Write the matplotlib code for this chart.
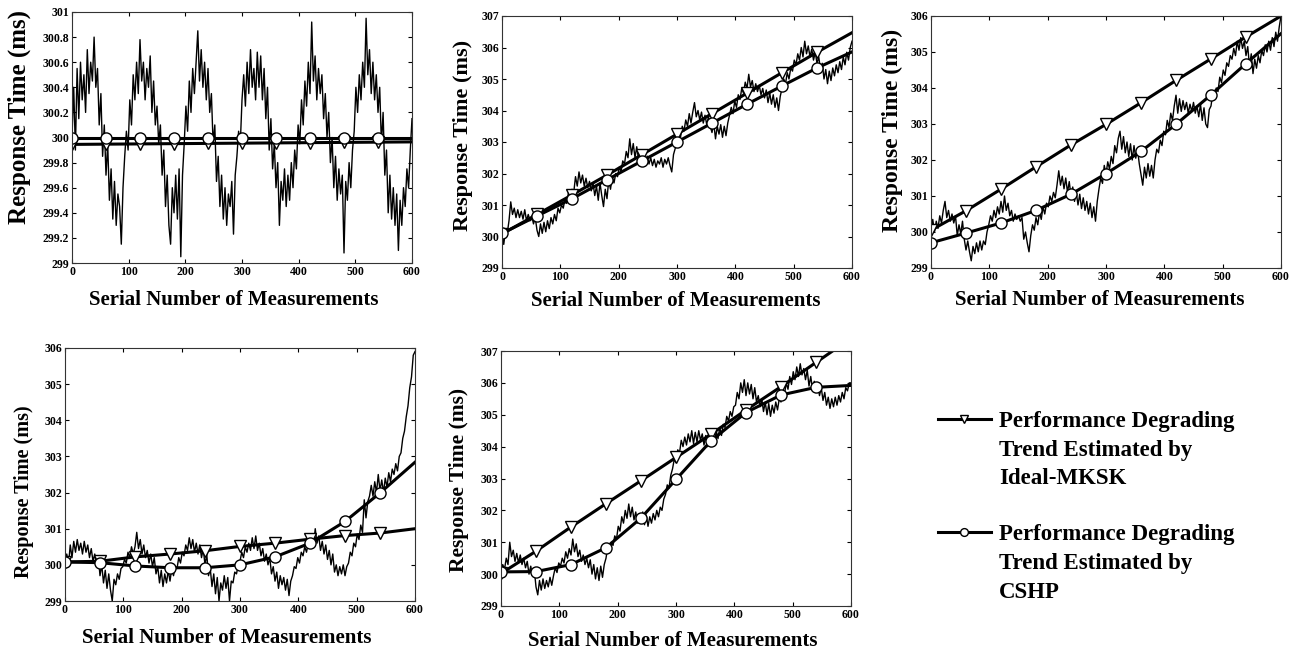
import numpy as np
import matplotlib
matplotlib.use("Agg")
import matplotlib.pyplot as plt
from matplotlib.lines import Line2D
from matplotlib.ticker import MultipleLocator, FormatStrFormatter

plt.rcParams["font.family"] = ["Liberation Serif", "DejaVu Serif"]
plt.rcParams["font.weight"] = "bold"

# serial numbers of the measurements (read every 3rd sample)
xs = np.arange(0, 601, 3)
# serial numbers where the two trend estimates are evaluated
xt = np.arange(0, 601, 60)

# (a) periodic fluctuation, no degradation
resp_a = [
    300.0, 300.4, 299.9, 300.55, 300.15, 300.6, 300.3, 300.5, 300.2, 300.7,
    300.35, 300.6, 300.45, 300.8, 300.4, 300.55, 300.1, 300.35, 299.85, 300.1,
    299.7, 299.95, 299.5, 299.75, 299.35, 299.65, 299.3, 299.55, 299.45, 299.15,
    299.6, 299.85, 300.05, 299.9, 300.3, 300.1, 300.5, 300.3, 300.6, 300.35,
    300.78, 300.45, 300.6, 300.3, 300.55, 300.4, 300.65, 300.2, 300.45, 300.1,
    300.25, 299.95, 300.1, 299.7, 299.9, 299.45, 299.7, 299.3, 299.15, 299.6,
    299.4, 299.7, 299.35, 299.75, 299.05, 299.7, 299.95, 300.25, 300.05, 300.45,
    300.2, 300.55, 300.35, 300.6, 300.85, 300.45, 300.7, 300.4, 300.6, 300.3,
    300.55, 300.2, 300.35, 299.95, 300.1, 299.65, 299.85, 299.45, 299.7, 299.35,
    299.6, 299.3, 299.55, 299.45, 299.65, 299.23, 299.7, 299.85, 300.05, 299.95,
    300.3, 300.5, 300.25, 300.6, 300.35, 300.7, 300.4, 300.55, 300.3, 300.68,
    300.4, 300.65, 300.3, 300.55, 300.15, 300.4, 299.9, 300.15, 299.75, 299.95,
    299.6, 299.8, 299.3, 299.65, 299.5, 299.75, 299.45, 299.7, 299.5, 299.8,
    299.6, 299.9, 299.75, 300.1, 299.95, 300.3, 300.1, 300.45, 300.25, 300.6,
    300.35, 300.92, 300.45, 300.65, 300.3, 300.55, 300.35, 300.5, 300.15, 300.35,
    300.0, 300.2, 299.8, 300.0, 299.6, 299.85, 299.5, 299.75, 299.55, 299.7,
    299.08, 299.65, 299.5, 299.8, 299.6, 299.9, 300.05, 300.4, 300.2, 300.5,
    300.3, 300.6, 300.4, 300.95, 300.5, 300.7, 300.35, 300.6, 300.3, 300.5,
    300.2, 300.4, 299.95, 300.2, 299.7, 299.9, 299.4, 299.7, 299.35, 299.6,
    299.3, 299.55, 299.1, 299.5, 299.3, 299.6, 299.45, 299.75, 299.6, 299.9,
    300.15,
]
mksk_a = [299.945, 299.947, 299.949, 299.951, 299.953, 299.955, 299.957, 299.959, 299.961, 299.963, 299.965]
cshp_a = [300.0, 300.0, 300.0, 300.0, 300.0, 300.0, 300.0, 300.0, 300.0, 300.0, 300.0]

# (b) linear degradation
resp_b = [
    300.0, 299.75, 300.2, 300.1, 300.5, 301.1, 300.7, 300.9, 300.6, 300.85,
    300.6, 300.8, 300.55, 300.85, 300.5, 300.7, 300.5, 300.65, 300.4, 300.6,
    300.2, 300.0, 300.4, 300.1, 300.45, 300.15, 300.5, 300.25, 300.6, 300.4,
    300.7, 300.5, 300.9, 300.75, 301.0, 300.9, 301.2, 301.05, 301.4, 301.2,
    301.5, 301.4, 301.9, 301.6, 302.05, 301.7, 301.95, 301.6, 301.85, 301.55,
    301.75, 301.45, 301.7, 301.3, 301.6, 301.15, 301.7, 301.3, 300.95, 301.5,
    301.2, 301.8, 301.5, 301.9, 301.7, 302.0, 301.9, 302.2, 302.05, 302.4,
    302.3, 302.7, 302.5, 303.1, 302.6, 302.95, 302.5, 302.85, 302.45, 302.75,
    302.5, 302.7, 302.35, 302.55, 302.3, 302.5, 302.25, 302.45, 302.2, 302.4,
    302.3, 302.5, 302.2, 302.45, 302.3, 302.5, 302.25, 302.05, 302.6, 302.8,
    303.0, 303.3, 303.15, 303.5, 303.35, 303.7, 303.5, 303.9, 303.6, 303.95,
    304.25, 303.8, 304.0, 303.7, 303.95, 303.6, 303.85, 303.55, 303.8, 303.5,
    303.3, 303.6, 303.1, 303.5, 303.25, 303.55, 303.15, 303.5, 303.2, 303.6,
    303.85, 304.1, 303.9, 304.3, 304.1, 304.5, 304.35, 304.7, 304.55, 304.9,
    304.7, 305.15, 304.75, 304.95, 304.6, 304.85, 304.6, 304.8, 304.5, 304.7,
    304.4, 304.65, 304.25, 304.55, 304.2, 304.5, 304.1, 304.4, 304.0, 304.45,
    304.7, 305.0, 304.85, 305.2, 305.0, 305.35, 305.25, 305.6, 305.45, 305.8,
    305.6, 306.0, 305.7, 306.2, 305.8, 306.05, 305.7, 305.95, 305.6, 305.85,
    305.5, 305.7, 305.3, 305.5, 305.0, 305.3, 304.85, 305.25, 304.95, 305.35,
    305.1, 305.45, 305.2, 305.55, 305.3, 305.7, 305.45, 305.85, 305.6, 306.0,
    306.2,
]
mksk_b = [300.08, 300.7, 301.32, 301.95, 302.6, 303.25, 303.9, 304.55, 305.2, 305.85, 306.47]
cshp_b = [300.1, 300.65, 301.2, 301.8, 302.4, 303.0, 303.6, 304.2, 304.78, 305.35, 305.86]

# (c) accelerating degradation
resp_c = [
    300.1, 300.35, 300.0, 300.3, 300.1, 300.45, 300.25, 300.6, 300.85, 300.4,
    300.6, 300.3, 300.5, 300.25, 300.45, 299.9, 300.2, 299.95, 300.3, 299.8,
    299.5, 299.75, 299.45, 299.2, 299.6, 299.4, 299.7, 299.45, 299.75, 299.5,
    299.75, 299.65, 300.0, 300.2, 300.45, 300.3, 300.6, 300.4, 300.7, 300.5,
    300.85, 300.55, 301.0, 300.6, 300.8, 300.45, 300.6, 300.3, 300.5, 300.35,
    300.45, 300.3, 300.4, 299.8, 300.0, 299.7, 299.45, 299.9, 300.2, 300.05,
    300.4, 300.2, 300.55, 300.35, 300.7, 300.5, 300.8, 300.7, 301.0, 300.85,
    301.1, 300.95, 301.3, 301.7, 301.3, 301.55, 301.2, 301.5, 301.1, 301.4,
    301.0, 301.25, 300.85, 301.1, 300.75, 301.05, 300.65, 300.95, 300.6, 300.85,
    300.5, 300.8, 300.4, 300.7, 300.3, 300.85, 301.2, 301.5, 301.35, 301.85,
    301.6, 301.95, 301.75, 302.1, 301.9, 302.4, 302.2, 302.6, 302.8, 302.3,
    302.65, 302.2, 302.5, 302.1, 302.45, 302.0, 302.4, 302.05, 302.3, 301.9,
    301.6, 301.3, 301.8, 301.5, 301.9, 301.55, 301.85, 301.5, 302.0, 302.3,
    302.2, 302.55, 302.4, 302.8, 302.7, 303.1, 302.9, 303.3, 303.1, 303.5,
    303.8, 303.3, 303.7, 303.35, 303.65, 303.4, 303.6, 303.3, 303.55, 303.35,
    303.6, 303.3, 303.5, 303.2, 303.55, 303.1, 303.45, 303.0, 302.9, 303.4,
    303.5, 303.85, 303.7, 304.0, 303.9, 304.3, 304.15, 304.5, 304.35, 304.7,
    304.6, 304.9, 304.8, 305.1, 304.9, 305.3, 305.05, 305.4, 305.1, 305.3,
    304.9, 305.15, 304.6, 304.95, 304.4, 304.8, 304.55, 304.9, 304.7, 305.05,
    304.9, 305.2, 305.0, 305.3, 305.05, 305.4, 305.15, 305.55, 305.3, 305.7,
    306.0,
]
mksk_c = [300.05, 300.59, 301.19, 301.81, 302.42, 302.99, 303.59, 304.21, 304.81, 305.42, 306.0]
cshp_c = [299.7, 299.97, 300.25, 300.6, 301.05, 301.62, 302.24, 302.99, 303.81, 304.68, 305.51]

# (d) sharp degradation at the end
resp_d = [
    299.8, 300.3, 300.0, 300.55, 300.2, 300.65, 300.35, 300.7, 300.4, 300.6,
    300.3, 300.65, 300.35, 300.55, 300.2, 300.45, 300.1, 300.3, 300.0, 300.25,
    299.7, 300.0, 299.5, 299.85, 299.35, 299.75, 299.3, 299.0, 299.6, 299.45,
    299.75, 299.6, 299.9, 299.95, 300.15, 300.05, 300.35, 300.2, 300.5, 300.3,
    300.5, 300.9, 300.45, 300.7, 300.3, 300.55, 300.2, 300.4, 300.05, 300.3,
    299.95, 300.2, 299.75, 299.95, 299.5, 299.85, 299.4, 299.75, 299.5, 299.85,
    299.55, 299.9, 299.7, 299.95, 299.9, 300.2, 300.05, 300.35, 300.25, 300.55,
    300.4, 300.75, 300.45, 300.7, 300.35, 300.6, 300.3, 300.55, 300.2, 300.45,
    300.0, 300.3, 299.7, 299.9, 299.4, 299.75, 299.2, 299.65, 299.0, 299.5,
    299.3, 299.7, 299.35, 299.65, 299.0, 299.55, 299.5, 299.8, 299.75, 300.0,
    300.1, 300.35, 300.2, 300.5, 300.35, 300.6, 300.4, 300.75, 300.45, 300.8,
    300.4, 300.6, 300.25, 300.45, 300.1, 300.3, 300.0, 300.2, 299.75, 299.95,
    299.55, 299.8, 299.35, 299.7, 299.45, 299.65, 299.3, 299.6, 299.15, 299.55,
    299.7, 299.95, 299.9, 300.2, 300.05, 300.35, 300.25, 300.5, 300.35, 300.6,
    300.5, 300.85, 300.55, 301.0, 300.6, 300.8, 300.4, 300.65, 300.3, 300.55,
    300.15, 300.4, 300.0, 300.3, 299.8, 300.0, 299.7, 299.95, 299.75, 300.0,
    299.7, 299.95, 300.05, 300.35, 300.25, 300.6, 300.5, 300.85, 300.7, 301.1,
    300.9, 301.8, 301.3, 301.75, 301.9, 302.2, 301.9, 302.3, 302.0, 302.5,
    302.05, 302.35, 302.0, 302.4, 302.15, 302.55, 302.3, 302.65, 302.5, 302.8,
    302.6, 303.0, 303.1, 303.5, 303.7, 304.1, 304.4, 304.9, 305.2, 305.8,
    305.9,
]
mksk_d = [300.08, 300.1, 300.22, 300.3, 300.39, 300.51, 300.6, 300.71, 300.81, 300.88, 301.0]
cshp_d = [300.08, 300.06, 299.97, 299.92, 299.92, 300.0, 300.22, 300.6, 301.2, 301.99, 302.84]

# (e) degradation that levels off
resp_e = [
    300.0, 300.3, 300.15, 300.5, 300.3, 301.0, 300.55, 300.75, 300.4, 300.65,
    300.35, 300.6, 300.3, 300.5, 300.2, 300.4, 300.0, 300.25, 299.95, 300.15,
    299.6, 299.35, 299.8, 299.5, 299.85, 299.55, 299.8, 299.6, 299.9, 299.65,
    299.95, 300.2, 300.05, 300.35, 300.25, 300.5, 300.35, 300.7, 300.5, 300.8,
    300.6, 301.1, 300.7, 300.95, 300.55, 300.75, 300.4, 300.6, 300.3, 300.5,
    300.2, 300.45, 300.0, 300.3, 299.85, 300.2, 299.8, 300.25, 299.9, 300.3,
    300.5, 300.85, 300.7, 301.0, 300.9, 301.2, 301.1, 301.5, 301.35, 301.8,
    301.6, 302.0, 301.75, 302.2, 301.8, 302.1, 301.7, 301.95, 301.6, 301.9,
    301.65, 301.95, 301.55, 301.85, 301.5, 301.8, 301.6, 301.9, 301.7, 302.0,
    301.8, 302.1, 302.0, 302.35, 302.5, 302.8, 302.7, 303.1, 303.3, 303.6,
    303.5, 303.9, 303.8, 304.2, 304.0, 304.3, 304.05, 304.4, 304.15, 304.5,
    304.1, 304.45, 304.15, 304.5, 304.2, 304.4, 304.05, 304.35, 304.0, 304.3,
    304.0, 304.35, 304.1, 304.5, 304.25, 304.6, 304.35, 304.7, 304.6, 304.95,
    304.8, 305.1, 304.95, 305.25, 305.3, 305.7, 305.5, 306.0, 305.7, 306.1,
    305.6, 306.0, 305.65, 305.95, 305.5, 305.85, 305.4, 305.6, 305.25, 305.5,
    305.1, 305.4, 305.0, 305.35, 304.95, 305.3, 305.05, 305.4, 305.15, 305.5,
    305.4, 305.75, 305.65, 306.0, 305.8, 306.2, 305.95, 306.35, 306.1, 306.5,
    306.2, 306.6, 306.25, 306.45, 306.1, 306.4, 305.9, 306.2, 305.8, 306.05,
    305.7, 305.95, 305.6, 305.85, 305.45, 305.7, 305.3, 305.55, 305.2, 305.5,
    305.25, 305.55, 305.3, 305.6, 305.4, 305.7, 305.5, 305.85, 305.75, 306.0,
    306.0,
]
mksk_e = [300.02, 300.72, 301.48, 302.21, 302.93, 303.66, 304.39, 305.15, 305.88, 306.64, 307.4]
cshp_e = [300.07, 300.08, 300.3, 300.83, 301.76, 302.97, 304.18, 305.07, 305.62, 305.86, 305.92]

lines_mksk = ["Performance Degrading", "Trend Estimated by", "Ideal-MKSK"]
lines_cshp = ["Performance Degrading", "Trend Estimated by", "CSHP"]

W, H = 1300, 653
fig = plt.figure(figsize=(W / 100, H / 100), dpi=100)

# box (left, right, top, bottom) in pixels, ylim, y step, ylabel size,
# ylabel (x, y) and xlabel (x, y) in axes fractions
panels = [
    ((72, 412, 12, 263), resp_a, mksk_a, cshp_a, (299, 301), 0.2, 18, (-0.12, 0.58), (0.475, -0.108)),
    ((502, 852, 16, 268), resp_b, mksk_b, cshp_b, (299, 307), 1, 16, (-0.083, 0.528), (0.496, -0.091)),
    ((931, 1281, 16, 268), resp_c, mksk_c, cshp_c, (299, 306), 1, 17, (-0.08, 0.544), (0.481, -0.087)),
    ((65, 415, 348, 601), resp_d, mksk_d, cshp_d, (299, 306), 1, 14.5, (-0.09, 0.433), (0.463, -0.107)),
    ((501, 851, 351, 606), resp_e, mksk_e, cshp_e, (299, 307), 1, 15.5, (-0.092, 0.494), (0.491, -0.098)),
]

for (l, r, t, b), resp, mk, cs, ylim, step, ysz, ypos, xpos in panels:
    ax = fig.add_axes([l / W, 1 - b / H, (r - l) / W, (b - t) / H])
    ax.plot(xs, resp, color="black", lw=1.0)
    h_mk, = ax.plot(xt, mk, color="black", lw=2.2, marker="v", ms=8, mfc="white",
                    mec="black", mew=1.0, markevery=slice(0, 10))
    h_cs, = ax.plot(xt, cs, color="black", lw=2.2, marker="o", ms=8, mfc="white",
                    mec="black", mew=1.0, markevery=slice(0, 10))
    ax.set_xlim(0, 600)
    ax.set_ylim(*ylim)
    ax.xaxis.set_major_locator(MultipleLocator(100))
    ax.yaxis.set_major_locator(MultipleLocator(step))
    if step < 1:
        ax.yaxis.set_major_formatter(FormatStrFormatter("%g"))
    ax.tick_params(direction="in", length=3, width=0.8, top=True, right=True,
                   labelsize=8.5, pad=2)
    for sp in ax.spines.values():
        sp.set_linewidth(0.8)
        sp.set_color("#333333")
    ax.set_xlabel("Serial Number of Measurements", fontsize=15, fontweight="bold")
    ax.set_ylabel("Response Time (ms)", fontsize=ysz, fontweight="bold")
    ax.xaxis.set_label_coords(*xpos)
    ax.yaxis.set_label_coords(*ypos)

# legend: one row per text line, the key sits on the first line of each entry
blank = Line2D([], [], color="none")
handles = [h_mk, blank, blank, blank, h_cs, blank, blank]
labels = lines_mksk + [" "] + lines_cshp
leg = fig.legend(handles, labels, loc="upper left", bbox_to_anchor=(938 / W, 1 - 411 / H),
                 frameon=False, prop={"weight": "bold", "size": 16.5},
                 handlelength=2.3, handletextpad=0.35, labelspacing=0.33,
                 borderpad=0, borderaxespad=0, markerscale=0.7)
# narrower spacer row between the two entries
leg.get_texts()[3].set_fontsize(12.5)

fig.savefig("out.png", dpi=100)
